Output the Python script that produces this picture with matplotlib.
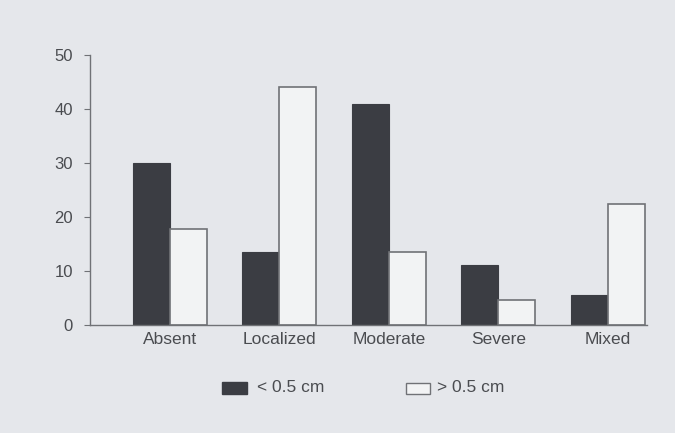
import numpy as np
import matplotlib.pyplot as plt
from matplotlib.patches import Rectangle

categories = ['Absent', 'Localized', 'Moderate', 'Severe', 'Mixed']
small = [30.0, 13.5, 41.0, 11.0, 5.5]     # < 0.5 cm
large = [17.7, 44.0, 13.4, 4.6, 22.3]     # > 0.5 cm
labels = ['< 0.5 cm', '> 0.5 cm']

bg = '#e5e7eb'
dark = '#3b3d43'
grey = '#707276'
txt = '#4a4c50'

plt.rcParams['font.family'] = ['Liberation Sans', 'DejaVu Sans']

fig = plt.figure(figsize=(6.75, 4.33), dpi=100, facecolor=bg)
ax = fig.add_axes([0.133, 0.25, 0.826, 0.623], facecolor=bg)

x = np.arange(len(categories))
w = 0.338
ax.bar(x - w / 2, small, w, color=dark, edgecolor=dark, linewidth=0.8)
ax.bar(x + w / 2, large, w, color='#f2f3f4', edgecolor=grey, linewidth=1.2)

ax.set_xlim(-0.73, 4.36)
ax.set_ylim(0, 50)
ax.set_yticks([0, 10, 20, 30, 40, 50])
ax.set_xticks(x)
ax.set_xticklabels(categories, fontsize=12.5, color=txt)
ax.tick_params(axis='x', length=0, pad=5)
ax.tick_params(axis='y', length=4, color=grey, labelsize=12, labelcolor=txt, pad=8)
for s in ['top', 'right']:
    ax.spines[s].set_visible(False)
for s in ['left', 'bottom']:
    ax.spines[s].set_color(grey)
    ax.spines[s].set_linewidth(1.0)

# legend drawn below the axes
fig.patches.append(Rectangle((222 / 675, 1 - 394 / 433), 25 / 675, 12 / 433,
                             transform=fig.transFigure, facecolor=dark, edgecolor=dark))
fig.text(257 / 675, 1 - 388 / 433, labels[0], fontsize=12.5, color=txt, va='center')
fig.patches.append(Rectangle((406 / 675, 1 - 394 / 433), 24 / 675, 11 / 433,
                             transform=fig.transFigure, facecolor='#f2f3f4', edgecolor=grey, linewidth=1.0))
fig.text(437 / 675, 1 - 388 / 433, labels[1], fontsize=12.5, color=txt, va='center')

fig.savefig('out.png', dpi=100, facecolor=bg)
